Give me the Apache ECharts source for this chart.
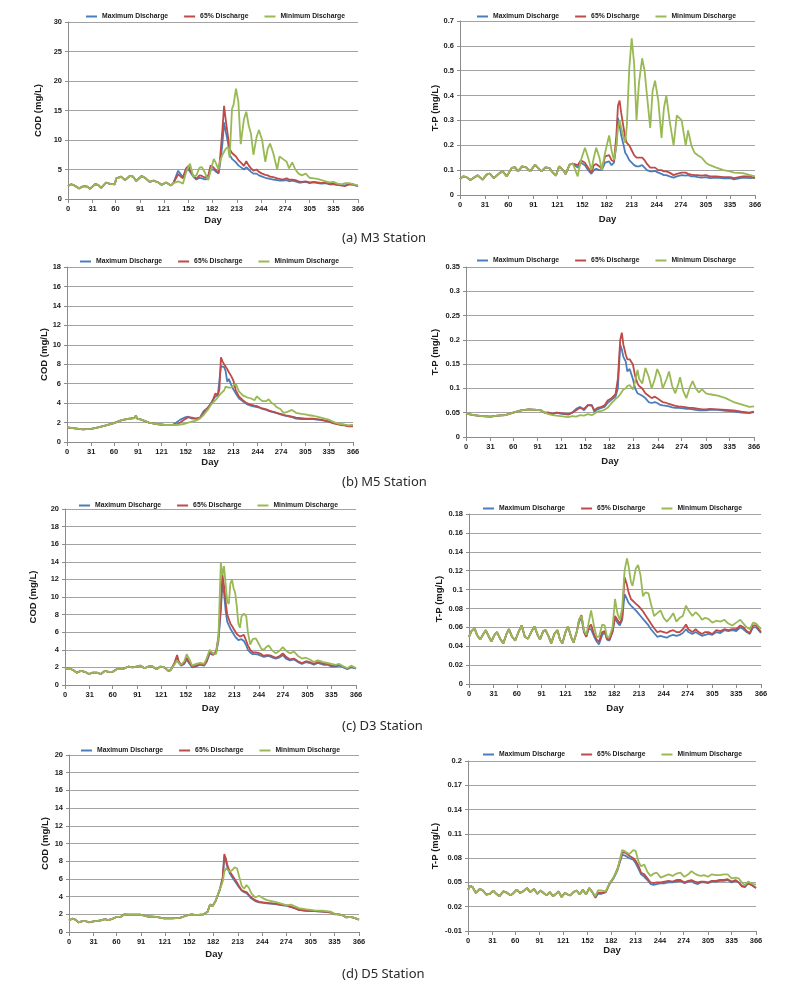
<!DOCTYPE html>
<html><head><meta charset="utf-8">
<script src="https://cdn.jsdelivr.net/npm/echarts@6/dist/echarts.min.js"></script>
<style>html,body{margin:0;padding:0;background:#fff}#c{width:800px;height:996px}</style>
</head><body><div id="c"></div>
<script>
const dayTicks = [0,31,60,91,121,152,182,213,244,274,305,335,366];
const seriesNames = ['Maximum Discharge','65% Discharge','Minimum Discharge'];
const captions = ['(a) M3 Station','(b) M5 Station','(c) D3 Station','(d) D5 Station'];

// ---- (a) M3 COD ----
const aCodBaseDays = [0,4,8,14,20,24,28,34,38,42,48,53,59,61,67,72,78,82,86,93,98,103,108,114,118,124,130,133];
const aCodBase = [2.2,2.5,2.3,1.8,2.2,2.1,1.75,2.5,2.4,1.9,2.8,2.55,2.5,3.5,3.8,3.2,3.9,3.8,3.05,3.9,3.5,2.9,3.1,2.8,2.4,2.8,2.3,2.7];
const aCodDays = [139,145,149,152,154,158,162,166,169,173,177,180,184,187,190,192,195,197,199,202,204,207,209,212,215,218,222,225,228,231,234,238,241,245,249,252,255,259,264,267,271,276,279,283,287,291,295,300,305,310,315,320,325,330,335,340,345,350,355,360,366];
const aCodMax = [4.8,3.7,5.0,5.0,4.6,3.8,3.3,3.6,3.5,3.3,3.5,5.0,5.0,4.6,4.3,6.0,9.5,13.0,11.5,9.5,7.5,6.8,6.5,6.2,5.7,5.4,5.0,5.4,5.0,4.6,4.3,4.3,4.0,3.8,3.6,3.5,3.4,3.3,3.2,3.1,3.1,3.2,3.0,3.1,3.0,2.8,2.8,2.9,2.7,2.8,2.7,2.6,2.7,2.5,2.5,2.4,2.3,2.3,2.5,2.4,2.2];
const aCod65 = [4.2,3.5,5.2,5.6,4.9,4.0,3.4,4.0,3.9,3.6,4.0,5.7,5.3,4.8,4.5,7.0,12.0,15.8,13.5,10.5,8.5,7.8,7.5,7.2,6.6,6.2,5.6,6.4,5.7,5.2,4.8,5.0,4.6,4.3,4.1,4.0,3.8,3.7,3.5,3.4,3.3,3.5,3.3,3.3,3.2,3.0,2.9,3.0,2.8,2.9,2.8,2.7,2.8,2.5,2.6,2.4,2.3,2.2,2.5,2.5,2.2];
const aCodMin = [3.0,2.6,4.5,5.5,6.0,3.8,4.0,5.3,5.4,4.4,3.2,4.8,6.8,6.0,5.0,6.5,7.5,8.0,8.5,8.8,7.0,15.3,16.0,18.7,16.5,9.3,13.5,14.8,12.5,11.0,7.5,10.5,11.7,10.0,6.3,8.5,9.4,7.8,5.0,7.2,6.8,6.3,5.2,6.2,5.0,4.3,4.0,4.3,3.6,3.5,3.4,3.2,3.0,2.8,2.9,2.6,2.5,2.7,2.7,2.5,2.3];

// ---- (a) M3 T-P ----
const aTpBaseDays = [0,4,8,13,18,22,28,33,37,42,44,49,53,58,64,68,72,77,82,87,93,97,101,106,111,115,119,123,128,131,136,140];
const aTpBase = [0.064,0.075,0.072,0.06,0.071,0.079,0.062,0.082,0.086,0.068,0.062,0.088,0.095,0.075,0.108,0.112,0.095,0.115,0.111,0.095,0.122,0.108,0.095,0.111,0.108,0.091,0.078,0.115,0.1,0.084,0.122,0.126];
const aTpDays = [146,150,155,159,163,166,169,173,176,180,185,188,191,194,196,198,200,203,205,207,210,213,216,219,222,226,229,232,236,239,242,246,250,253,256,260,265,269,275,280,283,287,291,295,300,305,310,318,327,335,340,351,360,366];
const aTpMax = [0.11,0.13,0.12,0.1,0.085,0.1,0.105,0.1,0.1,0.13,0.135,0.12,0.13,0.2,0.31,0.28,0.24,0.2,0.17,0.16,0.14,0.13,0.12,0.115,0.115,0.12,0.11,0.1,0.095,0.095,0.097,0.09,0.085,0.08,0.08,0.075,0.07,0.075,0.08,0.078,0.08,0.075,0.075,0.072,0.07,0.072,0.068,0.07,0.067,0.068,0.063,0.07,0.068,0.07];
const aTp65 = [0.12,0.14,0.13,0.11,0.09,0.12,0.125,0.115,0.105,0.155,0.16,0.14,0.135,0.24,0.36,0.38,0.33,0.27,0.23,0.21,0.2,0.18,0.16,0.15,0.15,0.15,0.14,0.125,0.11,0.11,0.11,0.1,0.1,0.095,0.095,0.09,0.08,0.085,0.09,0.09,0.085,0.082,0.08,0.08,0.078,0.08,0.075,0.075,0.072,0.072,0.068,0.075,0.075,0.068];
const aTpMin = [0.075,0.14,0.19,0.15,0.1,0.15,0.19,0.15,0.1,0.17,0.24,0.18,0.14,0.2,0.27,0.3,0.27,0.23,0.21,0.28,0.51,0.63,0.53,0.3,0.45,0.55,0.5,0.4,0.27,0.42,0.46,0.38,0.23,0.35,0.4,0.3,0.2,0.32,0.3,0.2,0.26,0.2,0.17,0.16,0.15,0.13,0.12,0.11,0.1,0.095,0.09,0.088,0.08,0.075];

// ---- (b) M5 COD ----
const bCodBaseDays = [0,10,20,31,40,50,60,70,80,86,88,90,95,105,115,125,135];
const bCodBase = [1.5,1.4,1.3,1.35,1.5,1.7,1.95,2.25,2.4,2.45,2.7,2.4,2.3,2.0,1.85,1.75,1.75];
const bCodDays = [140,145,150,155,160,165,170,175,180,185,190,193,195,197,199,201,203,205,207,210,213,216,220,225,230,235,240,243,247,250,255,258,262,265,268,273,277,282,288,293,300,305,310,315,320,325,330,335,340,345,350,355,360,366];
const bCodMax = [2.0,2.3,2.5,2.6,2.4,2.4,2.5,3.2,3.5,4.1,4.7,4.8,5.0,7.8,8.0,7.7,7.3,6.2,6.5,5.9,5.4,5.0,4.5,4.2,3.9,3.75,3.65,3.6,3.5,3.4,3.3,3.2,3.1,3.05,3.0,2.85,2.75,2.65,2.55,2.4,2.35,2.35,2.35,2.35,2.3,2.25,2.2,2.1,2.0,1.9,1.8,1.75,1.65,1.7];
const bCod65 = [1.8,2.0,2.3,2.55,2.5,2.4,2.45,3.0,3.5,4.0,5.0,4.8,5.4,8.7,8.3,8.0,7.8,7.5,7.2,6.8,6.3,5.3,4.7,4.3,4.0,3.85,3.75,3.7,3.55,3.45,3.35,3.25,3.15,3.1,3.0,2.9,2.8,2.7,2.6,2.5,2.45,2.4,2.4,2.4,2.35,2.3,2.2,2.1,1.95,1.85,1.75,1.7,1.6,1.6];
const bCodMin = [1.75,1.8,1.85,2.0,2.1,2.2,2.4,2.8,3.3,3.9,4.3,4.6,4.8,5.0,5.1,5.3,5.7,5.5,5.6,5.6,5.8,6.0,5.2,4.8,4.6,4.5,4.3,4.7,4.4,4.2,4.2,4.4,4.0,3.9,3.6,3.4,3.0,3.1,3.3,3.0,2.9,2.85,2.75,2.7,2.6,2.5,2.4,2.3,2.1,1.95,1.85,1.8,1.7,1.75];

// ---- (b) M5 T-P ----
const bTpBaseDays = [0,10,20,31,40,50,60,70,80,90,95,100];
const bTpBase = [0.048,0.045,0.043,0.042,0.044,0.045,0.05,0.055,0.057,0.056,0.055,0.05];
const bTpDays = [105,110,115,120,125,130,135,140,145,150,155,160,163,167,172,176,180,185,190,193,196,198,200,203,205,208,212,215,218,220,224,228,232,236,240,243,247,250,255,258,262,266,270,272,276,280,284,288,292,296,300,305,310,320,330,340,350,360,366];
const bTpMax = [0.05,0.047,0.05,0.048,0.047,0.046,0.05,0.058,0.062,0.055,0.065,0.066,0.052,0.057,0.06,0.062,0.07,0.077,0.083,0.1,0.19,0.18,0.165,0.155,0.135,0.14,0.12,0.1,0.09,0.088,0.085,0.08,0.072,0.07,0.072,0.07,0.066,0.065,0.064,0.063,0.061,0.06,0.06,0.061,0.059,0.058,0.058,0.057,0.056,0.055,0.055,0.055,0.056,0.056,0.054,0.053,0.05,0.049,0.051];
const bTp65 = [0.05,0.048,0.05,0.049,0.048,0.047,0.05,0.055,0.06,0.058,0.066,0.064,0.055,0.06,0.062,0.065,0.075,0.08,0.088,0.12,0.2,0.215,0.19,0.17,0.16,0.16,0.15,0.125,0.11,0.105,0.1,0.09,0.085,0.08,0.083,0.08,0.075,0.072,0.07,0.068,0.066,0.064,0.063,0.064,0.062,0.061,0.06,0.06,0.059,0.058,0.057,0.057,0.058,0.057,0.056,0.055,0.052,0.05,0.052];
const bTpMin = [0.047,0.045,0.044,0.043,0.042,0.041,0.043,0.042,0.045,0.044,0.047,0.045,0.048,0.052,0.054,0.056,0.06,0.07,0.078,0.082,0.088,0.09,0.098,0.1,0.105,0.107,0.098,0.115,0.138,0.12,0.11,0.142,0.125,0.1,0.12,0.14,0.125,0.1,0.12,0.135,0.105,0.09,0.11,0.123,0.095,0.08,0.1,0.115,0.1,0.092,0.098,0.09,0.088,0.085,0.08,0.072,0.067,0.062,0.063];

// ---- (c) D3 COD ----
const cCodBaseDays = [0,5,10,15,20,25,30,35,40,45,50,55,60,65,70,75,80,85,90,95,100,105,110,115,120,125,130,133];
const cCodBase = [1.8,1.9,1.7,1.4,1.6,1.5,1.25,1.4,1.4,1.25,1.6,1.5,1.5,1.8,1.8,1.9,2.1,2.0,2.1,2.2,1.9,2.1,2.1,1.8,2.1,2.0,1.6,1.7];
const cCodDays = [138,141,143,146,150,153,156,160,165,170,175,178,182,186,190,193,196,198,200,202,204,206,208,210,212,214,216,218,220,222,225,228,230,233,236,240,243,247,250,253,256,260,265,270,274,278,283,288,293,298,303,308,313,318,325,330,335,340,345,350,355,360,366];
const cCodMax = [2.4,3.0,2.5,2.2,2.4,2.9,2.5,2.0,2.1,2.3,2.2,2.6,3.6,3.4,3.6,5.0,8.5,11.5,10.5,8.5,7.2,6.8,6.4,6.1,5.8,5.5,5.3,5.1,5.1,5.2,5.0,4.5,4.0,3.7,3.5,3.5,3.45,3.3,3.2,3.25,3.3,3.15,3.0,3.15,3.4,3.0,2.8,2.9,2.6,2.4,2.6,2.5,2.3,2.5,2.3,2.3,2.1,2.1,2.2,2.0,1.8,2.0,1.85];
const cCod65 = [2.6,3.4,2.7,2.3,2.5,3.1,2.6,2.1,2.2,2.4,2.3,2.7,3.7,3.5,3.8,5.5,9.0,12.5,11.3,9.5,8.0,7.5,7.0,6.7,6.4,6.1,5.8,5.6,5.5,5.7,5.7,5.0,4.5,4.0,3.7,3.7,3.65,3.5,3.3,3.4,3.4,3.3,3.1,3.3,3.6,3.2,2.9,3.0,2.7,2.5,2.7,2.6,2.4,2.6,2.4,2.4,2.2,2.2,2.3,2.1,1.9,2.1,1.9];
const cCodMin = [2.4,2.8,2.5,2.3,2.7,3.5,3.0,2.2,2.4,2.5,2.4,3.0,4.0,3.6,3.5,5.5,13.9,12.5,13.5,11.5,9.5,9.2,11.5,12.0,11.0,10.5,9.0,7.0,6.5,7.8,8.1,7.8,6.0,4.6,5.2,5.3,4.8,4.1,4.0,4.3,4.5,4.0,3.6,3.9,4.3,3.9,3.6,3.8,3.3,3.0,3.1,2.9,2.6,2.8,2.6,2.5,2.4,2.3,2.4,2.1,1.9,2.2,1.9];

// ---- (c) D3 T-P ----
const cTpBaseDays = [0,3,7,10,14,18,21,25,28,32,35,39,43,47,50,54,58,62,66,70,74,78,82,86,89,93,96,100,103,107,111,114,117,121,124,128,131,135];
const cTpBase = [0.05,0.056,0.059,0.052,0.047,0.053,0.057,0.05,0.045,0.052,0.055,0.048,0.043,0.053,0.058,0.05,0.046,0.055,0.062,0.05,0.048,0.055,0.061,0.052,0.047,0.056,0.057,0.05,0.043,0.053,0.057,0.047,0.043,0.055,0.061,0.05,0.044,0.055];
const cTpDays = [138,141,144,147,150,153,157,160,163,167,170,173,176,180,183,186,189,192,195,198,200,203,205,209,212,215,218,221,225,228,232,236,240,244,248,252,256,260,264,268,272,275,280,284,288,292,296,300,305,310,315,320,325,330,335,340,344,348,352,356,360,364,366];
const cTpMax = [0.066,0.07,0.055,0.05,0.058,0.058,0.05,0.045,0.042,0.052,0.055,0.047,0.046,0.055,0.07,0.065,0.062,0.068,0.095,0.09,0.086,0.083,0.081,0.078,0.075,0.072,0.069,0.066,0.062,0.058,0.054,0.05,0.051,0.05,0.049,0.051,0.052,0.051,0.052,0.054,0.058,0.055,0.053,0.055,0.053,0.051,0.052,0.053,0.052,0.055,0.054,0.057,0.056,0.057,0.056,0.06,0.058,0.055,0.053,0.06,0.06,0.056,0.054];
const cTp65 = [0.068,0.073,0.056,0.05,0.06,0.063,0.052,0.047,0.045,0.055,0.056,0.048,0.047,0.056,0.072,0.068,0.064,0.07,0.113,0.105,0.097,0.09,0.088,0.085,0.083,0.08,0.077,0.073,0.068,0.064,0.059,0.055,0.056,0.055,0.054,0.056,0.057,0.055,0.055,0.058,0.063,0.058,0.055,0.058,0.055,0.053,0.055,0.055,0.053,0.057,0.056,0.058,0.057,0.058,0.058,0.062,0.06,0.056,0.054,0.062,0.062,0.057,0.055];
const cTpMin = [0.068,0.072,0.057,0.052,0.065,0.078,0.06,0.05,0.05,0.063,0.062,0.05,0.05,0.06,0.09,0.075,0.068,0.08,0.12,0.133,0.125,0.108,0.104,0.122,0.126,0.115,0.093,0.097,0.096,0.085,0.072,0.075,0.078,0.07,0.066,0.07,0.075,0.066,0.07,0.072,0.083,0.078,0.072,0.076,0.073,0.068,0.07,0.069,0.065,0.067,0.066,0.068,0.064,0.062,0.065,0.068,0.064,0.06,0.058,0.065,0.064,0.06,0.058];

// ---- (d) D5 COD ----
const dCodBaseDays = [0,4,8,12,16,20,25,31,36,40,45,50,55,60,65,70,75,80,90,95,100,110,120,130,140,145,150,155,160,170,175,178,181,185,190];
const dCodBase = [1.3,1.5,1.4,1.1,1.2,1.25,1.1,1.2,1.25,1.3,1.45,1.35,1.5,1.7,1.7,2.0,1.95,1.95,1.95,1.85,1.75,1.7,1.55,1.55,1.6,1.75,1.9,2.0,1.9,2.0,2.3,3.1,2.9,3.5,4.7];
const dCodDays = [194,196,198,200,203,206,209,212,215,218,221,224,227,230,235,240,245,250,260,270,275,280,285,290,300,310,320,330,335,340,345,350,355,360,366];
const dCodMax = [6.0,8.4,8.0,7.3,6.6,6.2,5.8,5.4,5.0,4.7,4.5,4.4,4.1,3.8,3.5,3.35,3.3,3.25,3.15,3.0,2.95,2.8,2.7,2.5,2.4,2.35,2.3,2.2,2.0,2.0,1.9,1.65,1.7,1.6,1.4];
const dCod65 = [6.2,8.8,8.3,7.5,6.8,6.4,6.0,5.6,5.1,4.7,4.6,4.5,4.2,3.9,3.6,3.4,3.35,3.3,3.2,3.05,3.0,2.85,2.7,2.5,2.4,2.35,2.3,2.25,2.05,2.0,1.9,1.65,1.7,1.6,1.4];
const dCodMin = [5.7,6.8,7.2,7.3,6.8,7.0,7.3,7.2,6.2,5.2,4.9,5.3,5.0,4.4,3.9,4.1,3.8,3.6,3.4,3.15,3.0,3.1,2.9,2.7,2.55,2.45,2.4,2.3,2.05,2.0,1.9,1.65,1.7,1.6,1.4];

// ---- (d) D5 T-P ----
const dTpBaseDays = [0,3,6,10,15,19,23,28,32,36,40,45,50,54,58,62,66,70,75,79,84,88,92,96,100,104,108,112,115,119,123,127,130,134,138,142,146,150,154,158];
const dTpBase = [0.041,0.046,0.044,0.037,0.042,0.04,0.035,0.036,0.04,0.036,0.033,0.039,0.037,0.034,0.037,0.041,0.037,0.039,0.043,0.038,0.042,0.036,0.04,0.037,0.034,0.038,0.033,0.036,0.039,0.032,0.037,0.035,0.034,0.038,0.04,0.035,0.041,0.035,0.043,0.038];
const dTpDays = [162,165,170,175,180,185,190,193,196,200,205,210,213,217,220,224,228,232,236,240,245,250,255,260,265,270,275,280,284,288,292,296,300,305,310,315,320,325,330,335,340,344,348,352,356,360,366];
const dTpMax = [0.031,0.036,0.036,0.038,0.048,0.055,0.065,0.075,0.084,0.083,0.08,0.078,0.074,0.066,0.06,0.057,0.053,0.048,0.047,0.048,0.049,0.049,0.05,0.05,0.051,0.052,0.049,0.051,0.052,0.049,0.048,0.05,0.05,0.049,0.051,0.051,0.052,0.052,0.053,0.05,0.052,0.05,0.046,0.044,0.049,0.047,0.043];
const dTp65 = [0.032,0.037,0.037,0.038,0.049,0.056,0.067,0.077,0.087,0.087,0.083,0.08,0.077,0.07,0.062,0.06,0.055,0.05,0.049,0.05,0.05,0.051,0.052,0.051,0.053,0.053,0.05,0.052,0.053,0.051,0.05,0.051,0.051,0.05,0.052,0.052,0.053,0.053,0.054,0.051,0.053,0.05,0.045,0.045,0.049,0.047,0.043];
const dTpMin = [0.033,0.04,0.04,0.039,0.049,0.056,0.066,0.078,0.09,0.088,0.085,0.09,0.089,0.075,0.07,0.072,0.063,0.058,0.061,0.062,0.056,0.058,0.06,0.058,0.061,0.062,0.057,0.06,0.064,0.061,0.059,0.058,0.059,0.057,0.06,0.059,0.059,0.06,0.06,0.055,0.056,0.055,0.05,0.047,0.051,0.049,0.047];

function pairs(days, vals) { return days.map((d, i) => [d, vals[i]]); }

const panels = [
  {yName:'COD (mg/L)', yMin:0, yMax:30, yInt:5, bd:aCodBaseDays, b:aCodBase, td:aCodDays, s:[aCodMax,aCod65,aCodMin],
   grid:{left:68,top:22,width:290,height:177}, yGap:25, xGap:16, lg:{left:86,top:13}},
  {yName:'T-P (mg/L)', yMin:0, yMax:0.7, yInt:0.1, bd:aTpBaseDays, b:aTpBase, td:aTpDays, s:[aTpMax,aTp65,aTpMin],
   grid:{left:460,top:21,width:295,height:174}, yGap:20, xGap:19, lg:{left:477,top:13}},
  {yName:'COD (mg/L)', yMin:0, yMax:18, yInt:2, bd:bCodBaseDays, b:bCodBase, td:bCodDays, s:[bCodMax,bCod65,bCodMin],
   grid:{left:67,top:267,width:286,height:175}, yGap:18, xGap:15, lg:{left:80,top:258}},
  {yName:'T-P (mg/L)', yMin:0, yMax:0.35, yInt:0.05, bd:bTpBaseDays, b:bTpBase, td:bTpDays, s:[bTpMax,bTp65,bTpMin],
   grid:{left:466,top:267,width:288,height:170}, yGap:26, xGap:19, lg:{left:477,top:257}},
  {yName:'COD (mg/L)', yMin:0, yMax:20, yInt:2, bd:cCodBaseDays, b:cCodBase, td:cCodDays, s:[cCodMax,cCod65,cCodMin],
   grid:{left:65,top:509,width:291,height:176}, yGap:27, xGap:18, lg:{left:79,top:502}},
  {yName:'T-P (mg/L)', yMin:0, yMax:0.18, yInt:0.02, bd:cTpBaseDays, b:cTpBase, td:cTpDays, s:[cTpMax,cTp65,cTpMin],
   grid:{left:469,top:514,width:292,height:170}, yGap:25, xGap:19, lg:{left:483,top:505}},
  {yName:'COD (mg/L)', yMin:0, yMax:20, yInt:2, bd:dCodBaseDays, b:dCodBase, td:dCodDays, s:[dCodMax,dCod65,dCodMin],
   grid:{left:69,top:755,width:290,height:177}, yGap:19, xGap:17, lg:{left:81,top:747}},
  {yName:'T-P (mg/L)', yMin:-0.01, yMax:0.2, yInt:0.03, bd:dTpBaseDays, b:dTpBase, td:dTpDays, s:[dTpMax,dTp65,dTpMin],
   grid:{left:468,top:761,width:288,height:170}, yGap:28, xGap:14, lg:{left:483,top:751}}
];

const colors = ['#4a7ebb', '#be4b48', '#98b954'];
const tickFont = {fontFamily:'Liberation Sans', fontWeight:'bold', fontSize:7.5, color:'#1a1a1a'};
const gridColor = '#a3a3a3';

const option = {
  animation:false,
  backgroundColor:'#fff',
  title: captions.map((t, i) => ({
    text:t, left:342, top:[232,476,720,968][i], padding:0,
    textStyle:{fontFamily:'Noto Sans', fontWeight:'normal', fontSize:13, color:'#2a2a2a'}
  })),
  grid: panels.map(p => Object.assign({containLabel:false}, p.grid)),
  legend: panels.map(p => ({
    data: seriesNames, left:p.lg.left, top:p.lg.top, padding:0, itemGap:16,
    icon:'rect', itemWidth:11, itemHeight:2,
    textStyle:{fontFamily:'Liberation Sans', fontWeight:'bold', fontSize:6.8, color:'#1a1a1a'}
  })),
  xAxis: panels.map((p, i) => ({
    type:'value', gridIndex:i, min:0, max:366,
    name:'Day', nameLocation:'middle', nameGap:p.xGap, nameMoveOverlap:false,
    nameTextStyle:{fontFamily:'Liberation Sans', fontWeight:'bold', fontSize:9.5, color:'#1a1a1a'},
    axisLine:{show:true, onZero:false, lineStyle:{color:'#8c8c8c', width:1}},
    axisTick:{show:true, customValues:dayTicks, length:4, lineStyle:{color:'#8c8c8c'}},
    axisLabel:Object.assign({customValues:dayTicks, margin:6}, tickFont),
    splitLine:{show:false}
  })),
  yAxis: panels.map((p, i) => ({
    type:'value', gridIndex:i, min:p.yMin, max:p.yMax, interval:p.yInt,
    name:p.yName, nameLocation:'middle', nameRotate:90, nameGap:p.yGap, nameMoveOverlap:false,
    nameTextStyle:{fontFamily:'Liberation Sans', fontWeight:'bold', fontSize:9.5, color:'#1a1a1a'},
    axisLine:{show:true, lineStyle:{color:'#8c8c8c', width:1}},
    axisTick:{show:true, length:3, lineStyle:{color:'#8c8c8c'}},
    axisLabel:Object.assign({margin:6}, tickFont),
    splitLine:{show:true, lineStyle:{color:gridColor, width:1}}
  })),
  series: []
};

panels.forEach((p, i) => {
  p.s.forEach((vals, k) => {
    option.series.push({
      type:'line', name:seriesNames[k], xAxisIndex:i, yAxisIndex:i,
      data: pairs(p.bd, p.b).concat(pairs(p.td, vals)),
      showSymbol:false, symbol:'none', z:2 + k,
      lineStyle:{color:colors[k], width:1.8},
      itemStyle:{color:colors[k]}
    });
  });
});

const chart = echarts.init(document.getElementById('c'), null, {renderer:'canvas'});
chart.setOption(option);
</script>
</body></html>
